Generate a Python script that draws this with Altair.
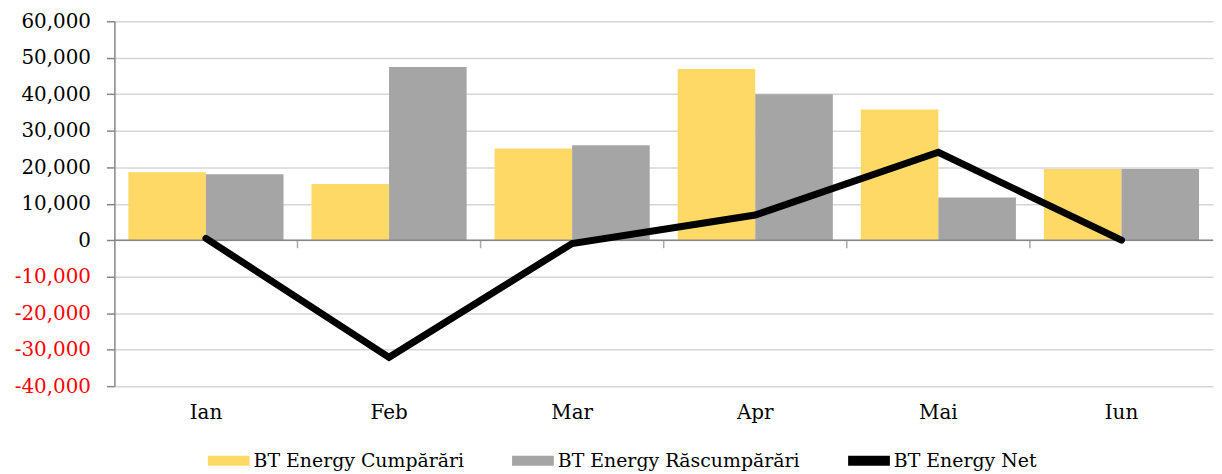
import altair as alt
import pandas as pd

months = ["Ian", "Feb", "Mar", "Apr", "Mai", "Iun"]
buy = [18600, 15400, 25100, 46900, 35800, 19500]
redeem = [18100, 47500, 26000, 40000, 11700, 19500]
net = [500, -32100, -900, 6900, 24100, 0]
series = ["BT Energy Cumpărări", "BT Energy Răscumpărări", "BT Energy Net"]
colors = ["#FFD966", "#A5A5A5", "#000000"]
y_ticks = list(range(-40000, 60001, 10000))

bars_df = pd.DataFrame({
    "month": months * 2,
    "series": [series[0]] * len(months) + [series[1]] * len(months),
    "value": buy + redeem,
})
net_df = pd.DataFrame({"month": months, "series": series[2], "value": net})
bounds_df = pd.DataFrame({"month": months[1:], "value": [0] * (len(months) - 1)})
zero_df = pd.DataFrame({"value": [0]})

FONT = "DejaVu Serif"
AXIS_GRAY = "#868686"

x_scale = alt.Scale(domain=months, paddingInner=0, paddingOuter=0)
y_scale = alt.Scale(domain=[-40000, 60000], nice=False, zero=False)

x_axis = alt.Axis(title=None, domain=False, ticks=False, grid=False,
                  labelAngle=0, labelPadding=17, labelFontSize=20,
                  labelFont=FONT, labelColor="#000000")
y_axis = alt.Axis(title=None, values=y_ticks, tickCount=11, labelOverlap=False,
                  labelExpr="replace(format(datum.value, ','), '\u2212', '-')",
                  labelColor={"condition": {"test": "datum.value < 0", "value": "#FF0000"},
                              "value": "#000000"},
                  labelFont=FONT, labelFontSize=20, labelPadding=16,
                  domainColor=AXIS_GRAY, domainWidth=1.5,
                  tickColor=AXIS_GRAY, tickWidth=1.5, tickSize=8,
                  grid=True, gridColor="#D6D6D6", gridWidth=1.5)

x = alt.X("month:N", sort=months, scale=x_scale, axis=x_axis)
y = alt.Y("value:Q", scale=y_scale, axis=y_axis)

legend = alt.Legend(
    title=None, orient="none", legendX=94, legendY=421, direction="horizontal",
    labelFont=FONT, labelFontSize=19, labelColor="#000000", labelLimit=0,
    symbolType="M-1,-0.24L1,-0.24L1,0.24L-1,0.24Z", symbolSize=1764,
    symbolStrokeWidth=0, symbolOpacity=1, labelOffset=4, columnPadding=48,
    padding=0,
)

bars = alt.Chart(bars_df).mark_bar().encode(
    x=x,
    y=y,
    xOffset=alt.XOffset("series:N", sort=series[:2],
                        scale=alt.Scale(domain=series[:2], paddingOuter=0.18, paddingInner=0)),
    color=alt.Color("series:N", scale=alt.Scale(domain=series, range=colors), legend=legend),
)

zero_line = alt.Chart(zero_df).mark_rule(color=AXIS_GRAY, strokeWidth=1.5).encode(y=y)

ticks = alt.Chart(bounds_df).mark_tick(
    orient="vertical", size=8, thickness=1.5, color=AXIS_GRAY, yOffset=4
).encode(
    x=alt.X("month:N", sort=months, scale=x_scale, axis=x_axis, bandPosition=0),
    y=y,
)

line = alt.Chart(net_df).mark_line(
    color="#000000", strokeWidth=7, strokeCap="round", strokeJoin="miter"
).encode(x=x, y=y)

chart = alt.layer(bars, zero_line, ticks, line).properties(
    width=1105, height=367,
    padding={"left": 6, "top": 2, "right": 0, "bottom": 0},
).configure_view(strokeWidth=0)

chart.save("out.html", embed_options={"renderer": "svg", "actions": False})
